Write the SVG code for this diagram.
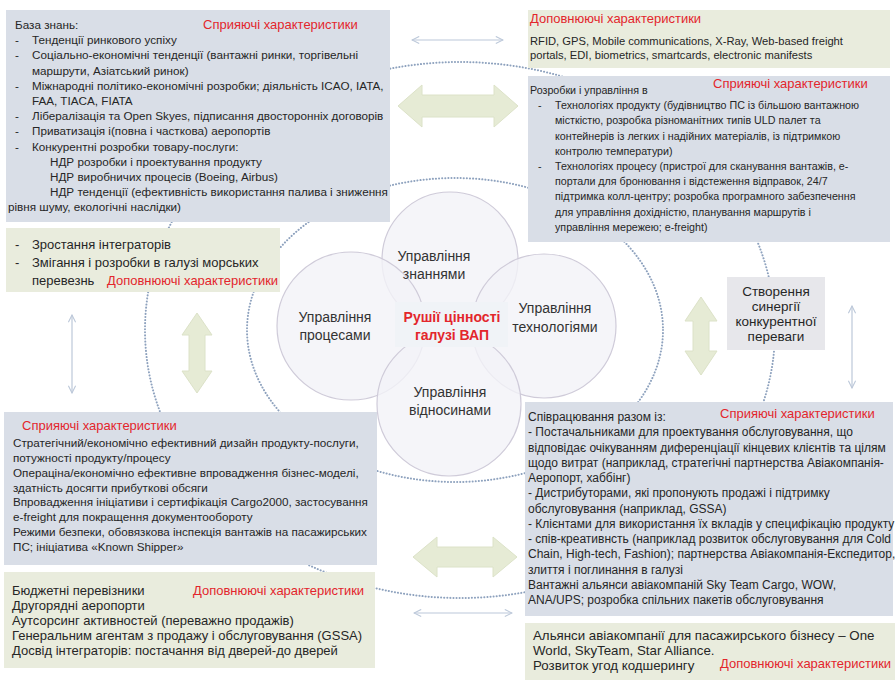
<svg xmlns="http://www.w3.org/2000/svg" width="895" height="680" viewBox="0 0 895 680">
<style>
.t{font-family:"Liberation Sans",Arial,sans-serif;fill:#262626}
.r{font-family:"Liberation Sans",Arial,sans-serif;fill:#E3262C;font-size:13px}
.s117{font-size:11.7px}
.s112{font-size:11.2px}
.s107{font-size:10.7px}
.s12{font-size:12px}
.s13{font-size:13px}
.s133{font-size:13.3px}
.c{font-size:14px;fill:#333;text-anchor:middle}
.blue{fill:#D9DEE7}
.green{fill:#E9ECDD}
.circ{fill:#F3F2F8;fill-opacity:0.8;stroke:#CFCBD9;stroke-width:1.2}
.dots{fill:none;stroke:#8EA2BE;stroke-width:2;stroke-dasharray:0.1 3;stroke-linecap:round}
.fat{fill:#E6EBD5;stroke:#DCE2C8;stroke-width:1}
.thin{fill:none;stroke:#BCC8D9;stroke-width:1.2;marker-start:url(#ah);marker-end:url(#ah)}
</style>
<defs>
<marker id="ah" viewBox="0 0 10 10" refX="9" refY="5" markerWidth="9" markerHeight="9" markerUnits="userSpaceOnUse" orient="auto-start-reverse">
<path d="M1,1 L9,5 L1,9" fill="none" stroke="#BCC8D9" stroke-width="1.2"/>
</marker>
</defs>
<rect width="895" height="680" fill="#FFFFFF"/>

<g id="connectors">
<ellipse class="dots" cx="460" cy="330" rx="315" ry="268"/>
<ellipse class="dots" cx="455" cy="330" rx="208" ry="152"/>
<line class="thin" x1="412" y1="40" x2="503" y2="40"/>
<line class="thin" x1="72" y1="315" x2="72" y2="393"/>
<line class="thin" x1="852" y1="306" x2="852" y2="388"/>
<line class="thin" x1="414" y1="613" x2="512" y2="613"/>
<path class="fat" d="M398,106 L422,85 L422,95 L494,95 L494,85 L518,106 L494,127 L494,117 L422,117 L422,127 Z"/>
<path class="fat" d="M413,557 L437,537 L437,547 L493,547 L493,537 L517,557 L493,577 L493,567 L437,567 L437,577 Z"/>
<path class="fat" d="M197,313 L212,335 L205,335 L205,371 L212,371 L197,393 L182,371 L189,371 L189,335 L182,335 Z"/>
<path class="fat" d="M701,297 L717,321 L709,321 L709,351 L717,351 L701,375 L685,351 L693,351 L693,321 L685,321 Z"/>
</g>

<g id="knowledge-base">
<rect class="blue" x="6" y="10" width="384" height="212"/>
<text class="t s117" x="15" y="29">База знань:</text>
<text class="r" x="203" y="29">Сприяючі характеристики</text>
<g class="t s117">
<text x="15" y="44.2">-</text><text x="32" y="44.2">Тенденції ринкового успіху</text>
<text x="15" y="59.4">-</text><text x="32" y="59.4">Соціально-економічні тенденції (вантажні ринки, торгівельні</text>
<text x="32" y="74.6">маршрути, Азіатський ринок)</text>
<text x="15" y="89.8">-</text><text x="32" y="89.8">Міжнародні політико-економічні розробки; діяльність ICAO, IATA,</text>
<text x="32" y="105">FAA, TIACA, FIATA</text>
<text x="15" y="120.2">-</text><text x="32" y="120.2">Лібералізація та Open Skyes, підписання двосторонніх договорів</text>
<text x="15" y="135.4">-</text><text x="32" y="135.4">Приватизація і(повна і часткова) аеропортів</text>
<text x="15" y="150.6">-</text><text x="32" y="150.6">Конкурентні розробки товару-послуги:</text>
<text x="50" y="165.8">НДР розробки і проектування продукту</text>
<text x="50" y="181">НДР виробничих процесів (Boeing, Airbus)</text>
<text x="50" y="196.2">НДР тенденції (ефективність використання палива і зниження</text>
<text x="8" y="211.4">рівня шуму, екологічні наслідки)</text>
</g>
</g>

<g id="integrators">
<rect class="green" x="6" y="228" width="274" height="64"/>
<g class="t s13">
<text x="15" y="249">-</text><text x="32" y="249">Зростання інтеграторів</text>
<text x="15" y="267">-</text><text x="32" y="267">Змігання і розробки в галузі морських</text>
<text x="32" y="285">перевезнь</text>
</g>
<text class="r" x="107" y="285">Доповнюючі характеристики</text>
</g>

<g id="tech-complementary">
<rect class="green" x="528" y="10" width="362" height="58"/>
<text class="r" x="530" y="22.5">Доповнюючі характеристики</text>
<g class="t s112">
<text x="530" y="45">RFID, GPS, Mobile communications, X-Ray, Web-based freight</text>
<text x="530" y="59">portals, EDI,  biometrics, smartcards, electronic manifests</text>
</g>
</g>

<g id="tech-enabling">
<rect class="blue" x="528" y="76" width="362" height="166"/>
<text class="r" x="713" y="88">Сприяючі характеристики</text>
<g class="t s107">
<text x="530" y="94">Розробки і управління в</text>
<text x="538" y="109.2">-</text><text x="555" y="109.2">Технологіях продукту (будівництво ПС із більшою вантажною</text>
<text x="555" y="124.4">місткістю, розробка різноманітних типів ULD палет та</text>
<text x="555" y="139.6">контейнерів із легких і надійних матеріалів, із підтримкою</text>
<text x="555" y="154.8">контролю температури)</text>
<text x="538" y="170">-</text><text x="555" y="170">Технологіях процесу (пристрої для сканування вантажів, е-</text>
<text x="555" y="185.2">портали для бронювання і відстеження відправок, 24/7</text>
<text x="555" y="200.4">підтримка колл-центру; розробка програмного забезпечення</text>
<text x="555" y="215.6">для управління дохідністю, планування маршрутів і</text>
<text x="555" y="230.8">управління мережею; e-freight)</text>
</g>
</g>

<g id="circle-knowledge">
<circle class="circ" cx="450" cy="260" r="68"/>
</g>
<g id="circle-process">
<circle class="circ" cx="351" cy="326" r="74"/>
</g>
<g id="circle-technology">
<circle class="circ" cx="544" cy="326" r="72"/>
</g>
<g id="circle-relations">
<circle class="circ" cx="449" cy="404" r="72"/>
</g>
<g id="circle-labels">
<text class="t c" x="434" y="261">Управління</text>
<text class="t c" x="434" y="279">знаннями</text>
<text class="t c" x="335" y="322">Управління</text>
<text class="t c" x="335" y="340">процесами</text>
<text class="t c" x="555" y="313">Управління</text>
<text class="t c" x="555" y="332">технологіями</text>
<text class="t c" x="450" y="397">Управління</text>
<text class="t c" x="450" y="415">відносинами</text>
</g>

<g id="center">
<rect x="395" y="302" width="113" height="45" fill="#F0F3F7"/>
<text x="452" y="322" text-anchor="middle" font-family="Liberation Sans, Arial, sans-serif" font-size="14" font-weight="bold" fill="#E3262C">Рушії цінності</text>
<text x="452" y="340" text-anchor="middle" font-family="Liberation Sans, Arial, sans-serif" font-size="14" font-weight="bold" fill="#E3262C">галузі ВАП</text>
</g>

<g id="synergy">
<rect x="727" y="277" width="98" height="73" fill="#E7E7EB"/>
<g class="t" font-size="13.5" text-anchor="middle">
<text x="776" y="296">Створення</text>
<text x="776" y="311">синергії</text>
<text x="776" y="326">конкурентної</text>
<text x="776" y="341">переваги</text>
</g>
</g>

<g id="process-enabling">
<rect class="blue" x="4" y="412" width="373" height="153"/>
<text class="r" x="22" y="429.5">Сприяючі характеристики</text>
<g class="t s117">
<text x="13" y="447">Стратегічний/економічно ефективний дизайн продукту-послуги,</text>
<text x="13" y="462">потужності продукту/процесу</text>
<text x="13" y="476.5">Операціна/економічно ефективне впровадження бізнес-моделі,</text>
<text x="13" y="491.5">здатність досягти прибуткові обсяги</text>
<text x="13" y="506">Впровадження ініціативи і сертифікація Cargo2000, застосування</text>
<text x="13" y="521">e-freight для покращення документообороту</text>
<text x="13" y="536">Режими безпеки, обовязкова інспекція вантажів на пасажирських</text>
<text x="13" y="551">ПС; ініціатива «Known Shipper»</text>
</g>
</g>

<g id="process-complementary">
<rect class="green" x="4" y="572" width="371" height="96"/>
<text class="r" x="193" y="594.5">Доповнюючі характеристики</text>
<g class="t s13">
<text x="12" y="594.5">Бюджетні перевізники</text>
<text x="12" y="609.5">Другорядні аеропорти</text>
<text x="12" y="624.5">Аутсорсинг активностей (переважно продажів)</text>
<text x="12" y="639.5">Генеральним агентам з продажу і обслуговування (GSSA)</text>
<text x="12" y="655">Досвід інтеграторів: постачання від дверей-до дверей</text>
</g>
</g>

<g id="relations-enabling">
<rect class="blue" x="525" y="402" width="368" height="214"/>
<text class="r" x="720" y="417.5">Сприяючі характеристики</text>
<g class="t s12">
<text x="528" y="421">Співрацювання разом із:</text>
<text x="528" y="436.3">- Постачальниками для проектування обслуговування, що</text>
<text x="528" y="451.5">відповідає очікуванням диференціації кінцевих клієнтів та цілям</text>
<text x="528" y="466.8">щодо витрат (наприклад, стратегічні партнерства Авіакомпанія-</text>
<text x="528" y="482">Аеропорт, хаббінг)</text>
<text x="528" y="497.3">- Дистрибуторами, які пропонують продажі і підтримку</text>
<text x="528" y="512.5">обслуговування (наприклад, GSSA)</text>
<text x="528" y="527.8">- Клієнтами для використання їх вкладів у специфікацію продукту</text>
<text x="528" y="543">- спів-креативнсть (наприклад розвиток обслуговування для Cold</text>
<text x="528" y="558.3">Chain, High-tech, Fashion); партнерства Авіакомпанія-Експедитор,</text>
<text x="528" y="573.5">злиття і поглинання в галузі</text>
<text x="528" y="588.8">Вантажні альянси авіакомпаній Sky Team Cargo, WOW,</text>
<text x="528" y="604">ANA/UPS; розробка спільних пакетів обслуговування</text>
</g>
</g>

<g id="relations-complementary">
<rect class="green" x="525" y="623" width="370" height="57"/>
<g class="t s133">
<text x="533" y="639.5">Альянси авіакомпанії для пасажирського бізнесу – One</text>
<text x="533" y="654.5">World, SkyTeam, Star Alliance.</text>
<text x="533" y="669.5">Розвиток угод кодшерингу</text>
</g>
<text class="r" x="720" y="667.5">Доповнюючі характеристики</text>
</g>
</svg>
